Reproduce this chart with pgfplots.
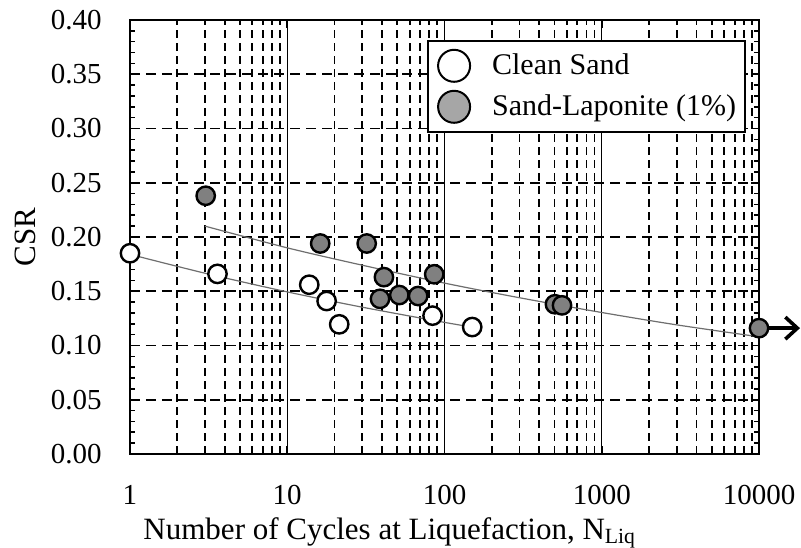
\documentclass[border=0pt]{standalone}
\usepackage{fontspec}
\setmainfont{Liberation Serif}
\usepackage{pgfplots}
\pgfplotsset{compat=1.18}
\usetikzlibrary{arrows.meta}
\definecolor{ptgray}{RGB}{128,128,128}
\definecolor{leggray}{RGB}{166,166,166}
\definecolor{trend}{RGB}{110,110,110}
\begin{document}
\fontsize{14.5}{17}\selectfont
\begin{tikzpicture}
\begin{axis}[name=ax,
  scale only axis, width=314.5pt, height=217pt,
  xmode=log, xmin=1, xmax=10000, ymin=0, ymax=0.40,
  clip=false,
  xtick={1,10,100,1000,10000}, xticklabels={1,10,100,1000,10000},
  minor xtick={2,3,4,5,6,7,8,9,20,30,40,50,60,70,80,90,200,300,400,500,600,700,800,900,2000,3000,4000,5000,6000,7000,8000,9000},
  ytick={0,0.05,0.10,0.15,0.20,0.25,0.30,0.35,0.40},
  minor y tick num=4,
  /pgf/number format/assume math mode=true,
  yticklabel style={/pgf/number format/fixed, /pgf/number format/fixed zerofill, /pgf/number format/precision=2, xshift=-9.2pt},
  xticklabel style={anchor=base, yshift=-25.5pt},
  xmajorgrids, xminorgrids, ymajorgrids,
  major x grid style={black, line width=0.5pt, solid},
  minor x grid style={black, line width=0.9pt, dash pattern=on 4pt off 2.5pt},
  major y grid style={black, line width=0.9pt, dash pattern=on 5pt off 3pt},
  axis line style={line width=1pt},
  tick style={black, line width=0.8pt},
  major tick length=4pt, minor tick length=2.5pt,
  xlabel={Number of Cycles at Liquefaction, N\textsubscript{Liq}},
  ylabel={CSR},
  xlabel style={at={(axis description cs:0.413,-0.196)}, anchor=base, font=\fontsize{15.5}{18}\selectfont},
  ylabel style={at={(axis description cs:-0.167,0.5)}, anchor=center, font=\fontsize{15.5}{18}\selectfont},
  legend style={at={(rel axis cs:0.9793,0.9539)}, anchor=north east, draw=black, line width=0.8pt, fill=white,
    row sep=3.5pt, column sep=0pt, inner xsep=4.5pt, inner ysep=4pt,
    nodes={inner sep=0pt}, font=\fontsize{15}{18}\selectfont},
  legend cell align=left,
]
\addplot[only marks, mark=*, mark size=4.6pt, mark options={draw=black, fill=white, line width=1.2pt},
  legend image code/.code={\draw[black, line width=1pt, fill=white] (8.5pt,0pt) circle (8pt); \path[draw=none, fill=none] (0pt,0pt) -- (27.5pt,0pt);}]
  coordinates {(1,0.185) (3.6,0.166) (13.8,0.156) (17.8,0.141) (21.4,0.1195) (84,0.1275) (150,0.117)};
\addlegendentry{Clean Sand}
\addplot[only marks, mark=*, mark size=4.6pt, mark options={draw=black, fill=ptgray, line width=1.2pt},
  legend image code/.code={\draw[black, line width=1pt, fill=leggray] (8.5pt,0pt) circle (8pt); \path[draw=none, fill=none] (0pt,0pt) -- (27.5pt,0pt);}]
  coordinates {(3.03,0.238) (16.2,0.194) (32,0.194) (41.2,0.163) (38.9,0.143) (51.6,0.1465) (68,0.1456) (86,0.1656) (504,0.138) (559,0.137) (10000,0.116)};
\addlegendentry{Sand-Laponite (1\%)}
\addplot[trend, line width=0.6pt, smooth, forget plot]
  coordinates {(1,0.184) (3,0.1666) (10,0.1494) (30,0.1353) (100,0.1213) (150,0.117)};
\addplot[trend, line width=0.6pt, smooth, forget plot]
  coordinates {(3,0.210) (10,0.190) (30,0.174) (100,0.1575) (300,0.144) (1000,0.1304) (3000,0.119) (10000,0.108)};
\draw[-{Straight Barb[length=6pt,width=11pt]}, line width=1.8pt] ([xshift=4.8pt]axis cs:10000,0.116) -- ([xshift=20.5pt]axis cs:10000,0.116);
\end{axis}
\pgfresetboundingbox
\path ([xshift=-65pt,yshift=-47pt]ax.south west) rectangle ([xshift=21pt,yshift=10pt]ax.north east);
\end{tikzpicture}
\end{document}
